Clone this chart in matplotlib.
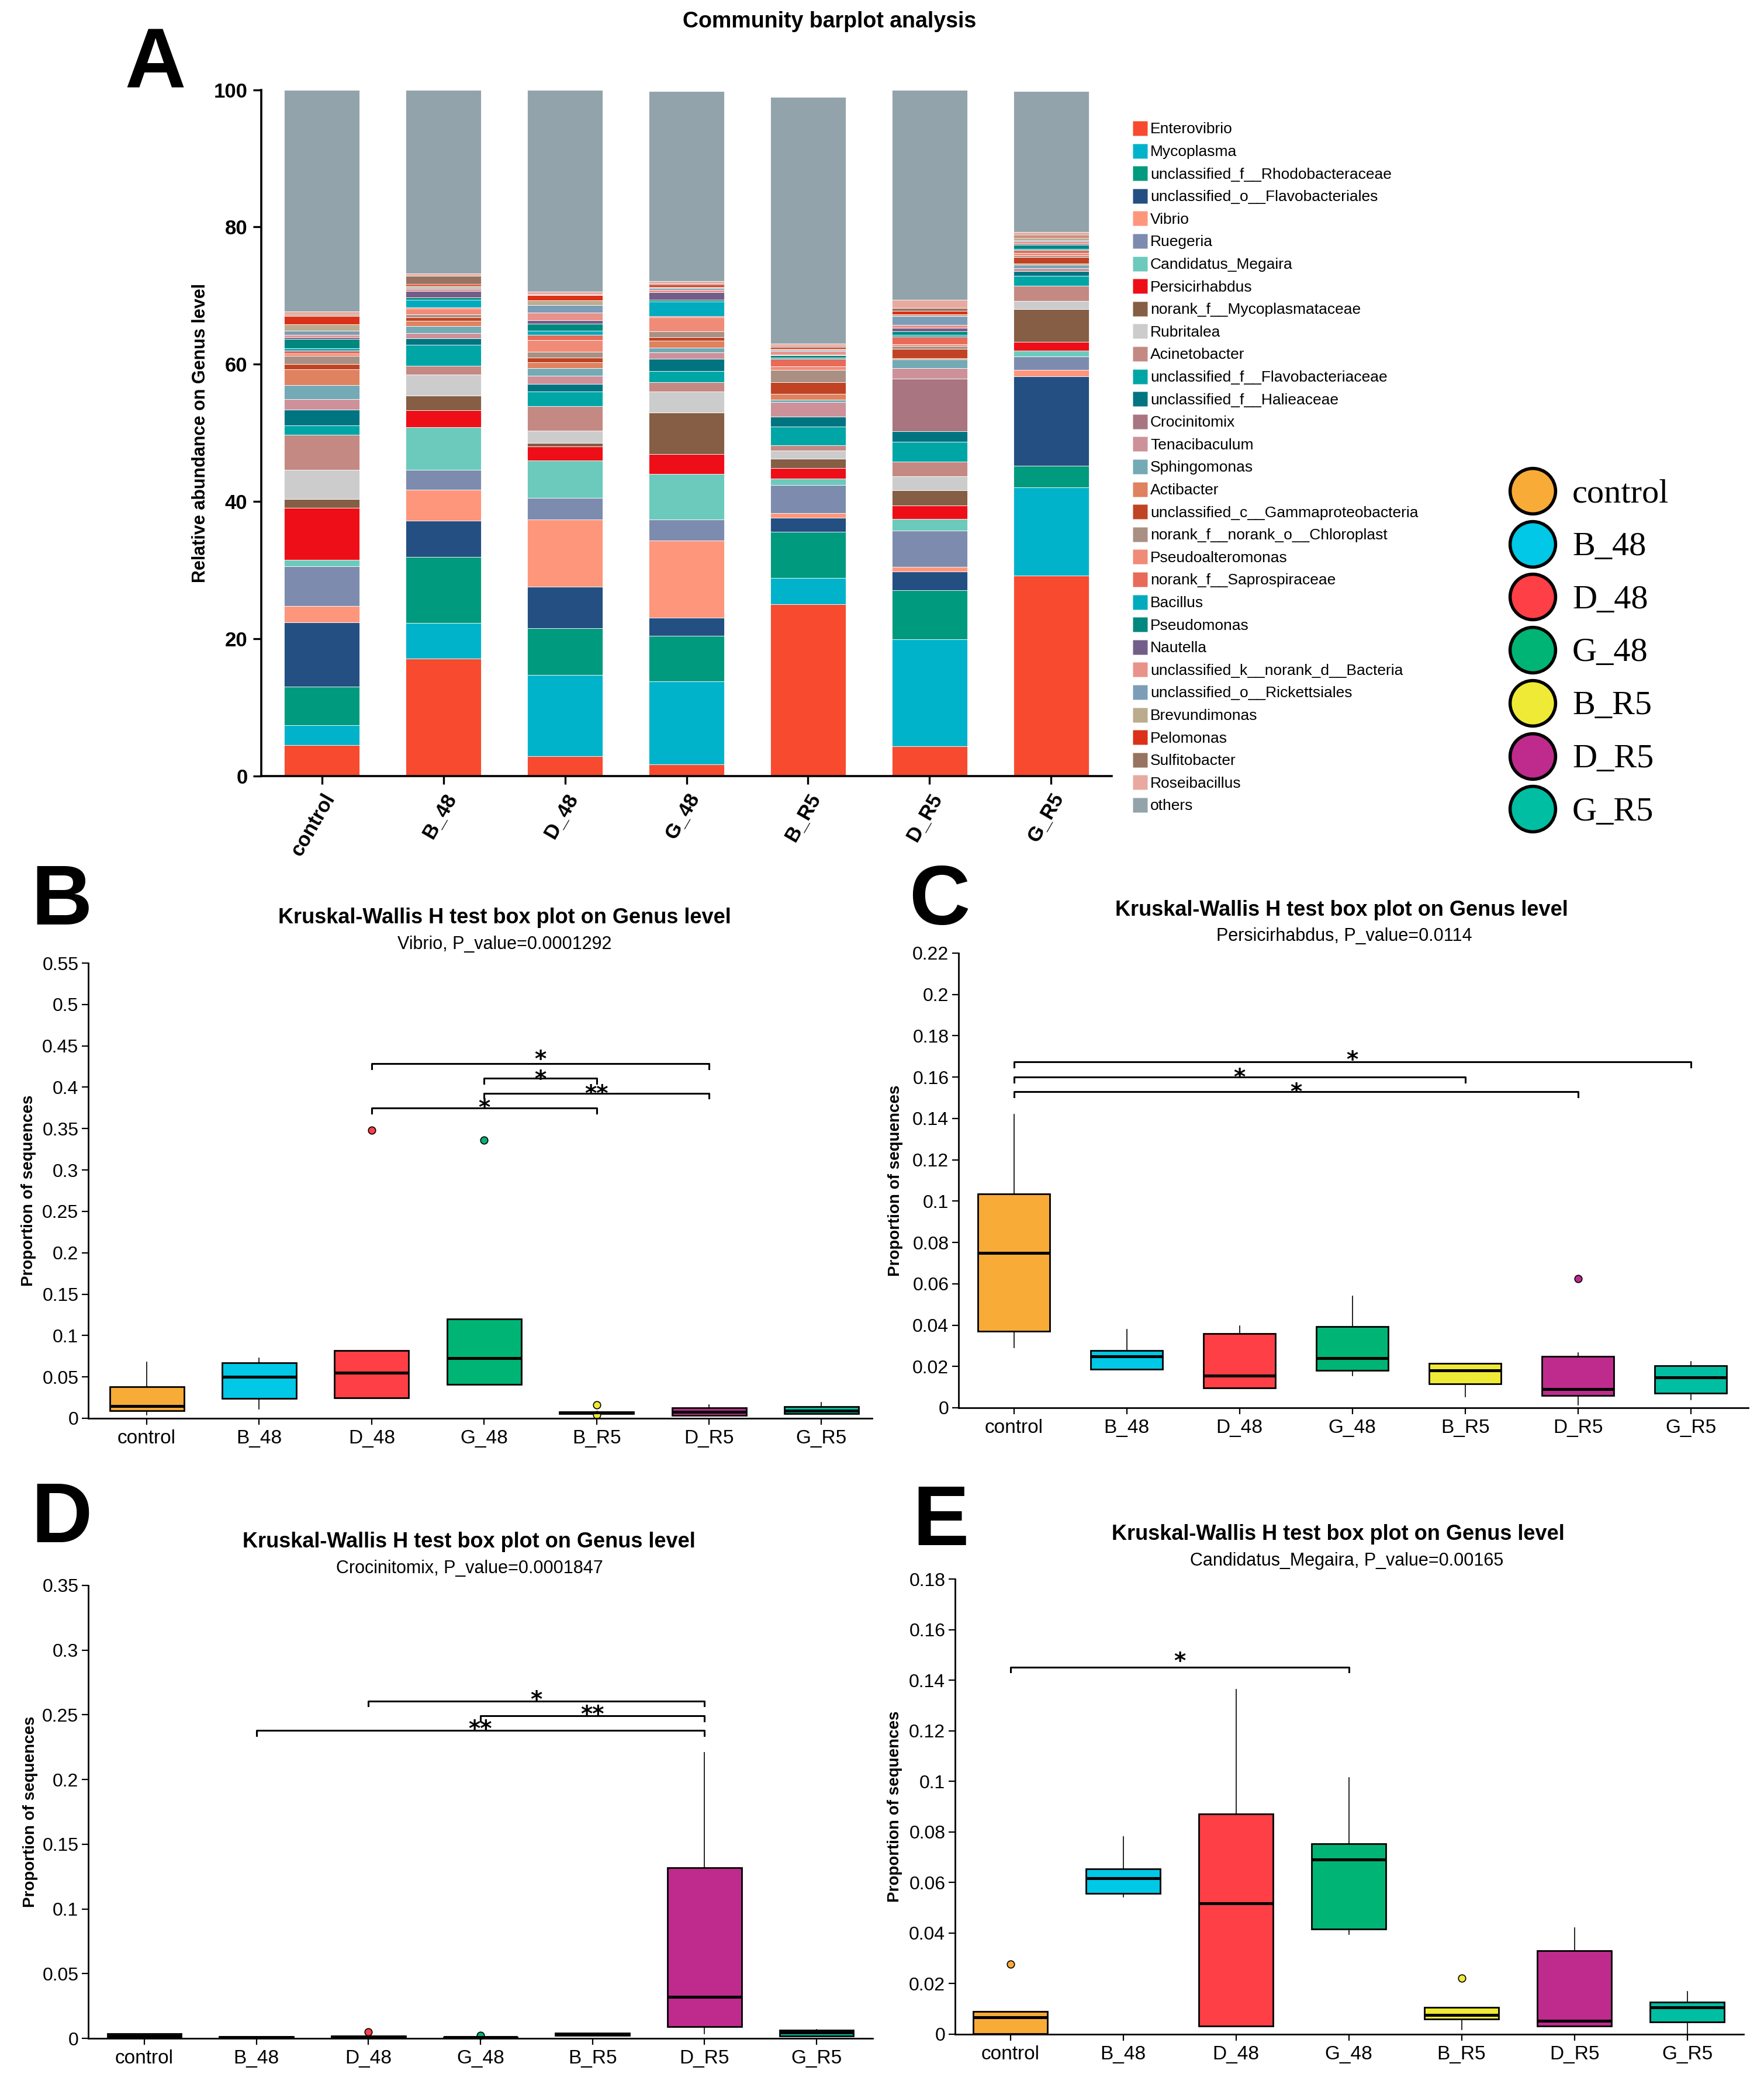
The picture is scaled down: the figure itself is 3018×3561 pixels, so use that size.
import numpy as np
import matplotlib
matplotlib.use("Agg")
import matplotlib.pyplot as plt
from matplotlib.lines import Line2D
from matplotlib.ticker import FuncFormatter

W, H, DPI = 3018, 3561, 200

# ---------------- data ----------------
samples = ['control', 'B_48', 'D_48', 'G_48', 'B_R5', 'D_R5', 'G_R5']
group_colors = ['#F8AB36', '#00C8E6', '#FE3F45', '#00B476', '#EFEA35', '#BE2B8D', '#00BEA2']

genera = ['Enterovibrio', 'Mycoplasma', 'unclassified_f__Rhodobacteraceae',
          'unclassified_o__Flavobacteriales', 'Vibrio', 'Ruegeria', 'Candidatus_Megaira',
          'Persicirhabdus', 'norank_f__Mycoplasmataceae', 'Rubritalea', 'Acinetobacter',
          'unclassified_f__Flavobacteriaceae', 'unclassified_f__Halieaceae', 'Crocinitomix',
          'Tenacibaculum', 'Sphingomonas', 'Actibacter', 'unclassified_c__Gammaproteobacteria',
          'norank_f__norank_o__Chloroplast', 'Pseudoalteromonas', 'norank_f__Saprospiraceae',
          'Bacillus', 'Pseudomonas', 'Nautella', 'unclassified_k__norank_d__Bacteria',
          'unclassified_o__Rickettsiales', 'Brevundimonas', 'Pelomonas', 'Sulfitobacter',
          'Roseibacillus', 'others']
genus_colors = ['#F84A2F', '#00B3CB', '#009A7E', '#244F82', '#FE967C', '#7D8CAE', '#6BCABC',
                '#EE0E18', '#855E45', '#CCCCCC', '#C48983', '#00A6A6', '#007481', '#A87580',
                '#CD919A', '#73AAB5', '#DE8260', '#C04424', '#A99083', '#F08B78', '#E86A58',
                '#00ABBE', '#00887E', '#725E88', '#E9928A', '#7C9DB7', '#BBAC8D', '#DA3118',
                '#967461', '#E8AAA0', '#93A3AB']

# relative abundance (%) of each genus, in legend order, per sample
control_pct = [4.5, 2.9, 5.6, 9.4, 2.4, 5.8, 0.9, 7.6, 1.3, 4.2, 5.1, 1.4, 2.3, 0.0, 1.5, 2.1,
               2.3, 0.7, 1.2, 0.4, 0.4, 0.3, 1.4, 0.2, 0.4, 0.6, 0.9, 1.2, 0.2, 0.5, 32.3]
b48_pct = [17.1, 5.2, 9.6, 5.3, 4.5, 2.9, 6.2, 2.5, 2.1, 3.1, 1.3, 3.0, 1.0, 0.0, 0.7, 1.1,
           0.7, 0.5, 0.5, 0.8, 0.2, 1.1, 0.3, 1.0, 0.3, 0.2, 0.2, 0.3, 1.2, 0.3, 26.8]
d48_pct = [2.9, 11.8, 6.8, 6.1, 9.8, 3.1, 5.5, 2.0, 0.5, 1.8, 3.6, 2.1, 1.1, 0.0, 1.2, 1.1,
           0.9, 0.7, 0.8, 1.7, 0.8, 0.6, 1.0, 0.5, 1.1, 1.1, 0.7, 0.8, 0.1, 0.4, 29.4]
g48_pct = [1.7, 12.1, 6.6, 2.7, 11.2, 3.1, 6.6, 2.9, 6.1, 3.0, 1.4, 1.6, 1.8, 0.0, 0.9, 0.7,
           1.0, 0.5, 0.9, 2.0, 0.2, 2.1, 0.3, 1.1, 0.3, 0.3, 0.2, 0.3, 0.2, 0.3, 27.7]
br5_pct = [25.0, 3.9, 6.7, 2.0, 0.7, 4.1, 0.9, 1.6, 1.3, 1.2, 0.8, 2.7, 1.5, 0.0, 2.1, 0.3,
           0.9, 1.7, 1.8, 0.5, 1.1, 0.2, 0.3, 0.1, 0.5, 0.2, 0.1, 0.3, 0.2, 0.3, 35.9]
dr5_pct = [4.3, 15.6, 7.2, 2.7, 0.7, 5.3, 1.7, 1.9, 2.2, 2.1, 2.1, 2.9, 1.5, 7.7, 1.5, 1.3,
           0.2, 1.3, 0.5, 0.2, 1.1, 0.3, 0.5, 0.5, 0.4, 1.3, 0.3, 0.5, 0.4, 1.2, 30.6]
gr5_pct = [29.2, 12.9, 3.1, 13.0, 1.0, 1.9, 0.9, 1.3, 4.7, 1.2, 2.2, 1.5, 0.7, 0.0, 0.4, 0.5,
           0.2, 0.9, 0.3, 0.3, 0.4, 0.2, 0.6, 0.2, 0.3, 0.2, 0.3, 0.2, 0.2, 0.5, 20.5]

# box plot statistics (proportion of sequences)
vibrio_q1 = [0.009, 0.024, 0.025, 0.041, 0.006, 0.0036, 0.0054]
vibrio_med = [0.015, 0.050, 0.055, 0.073, 0.007, 0.008, 0.0095]
vibrio_q3 = [0.038, 0.067, 0.082, 0.120, 0.008, 0.0126, 0.014]
vibrio_lo = [0.0045, 0.011, 0.025, 0.041, 0.006, 0.0036, 0.0054]
vibrio_hi = [0.068, 0.073, 0.082, 0.120, 0.008, 0.016, 0.019]
vibrio_out = [[], [], [0.348], [0.336], [0.016, 0.004], [], []]
vibrio_sig = [(2, 5, 0.4284, 0.4405, '*'), (3, 4, 0.4108, 0.4171, '*'),
              (3, 5, 0.3928, 0.3991, '**'), (2, 4, 0.3748, 0.382, '*')]

persic_q1 = [0.037, 0.0188, 0.0097, 0.018, 0.0117, 0.006, 0.0072]
persic_med = [0.075, 0.025, 0.0155, 0.024, 0.018, 0.009, 0.0146]
persic_q3 = [0.1035, 0.0276, 0.036, 0.0393, 0.0216, 0.025, 0.0204]
persic_lo = [0.029, 0.0188, 0.0097, 0.0155, 0.0054, 0.0015, 0.004]
persic_hi = [0.142, 0.038, 0.0395, 0.054, 0.0216, 0.0265, 0.0224]
persic_out = [[], [], [], [], [], [0.0624], []]
persic_sig = [(0, 6, 0.1674, 0.1711, '*'), (0, 4, 0.1600, 0.1627, '*'),
              (0, 5, 0.1529, 0.1556, '*')]

croc_q1 = [0.001, 0.0004, 0.0006, 0.0003, 0.0023, 0.0092, 0.002]
croc_med = [0.002, 0.0008, 0.0012, 0.0007, 0.003, 0.032, 0.0043]
croc_q3 = [0.0035, 0.0012, 0.0018, 0.0011, 0.004, 0.1317, 0.0063]
croc_lo = [0.001, 0.0004, 0.0006, 0.0003, 0.0023, 0.0035, 0.002]
croc_hi = [0.0035, 0.0012, 0.0018, 0.0011, 0.004, 0.221, 0.007]
croc_out = [[], [], [0.005], [0.0023], [], [], []]
croc_sig = [(2, 5, 0.2607, 0.266, '*'), (3, 5, 0.2492, 0.2547, '**'),
            (1, 5, 0.2380, 0.2437, '**')]

megaira_q1 = [0.0003, 0.0558, 0.0032, 0.0415, 0.006, 0.0032, 0.0049]
megaira_med = [0.0068, 0.0617, 0.0517, 0.069, 0.0077, 0.0054, 0.0106]
megaira_q3 = [0.0091, 0.0653, 0.0872, 0.0753, 0.0106, 0.033, 0.0128]
megaira_lo = [0.0003, 0.0544, 0.0032, 0.0396, 0.0018, 0.0032, 0.0]
megaira_hi = [0.0091, 0.078, 0.1364, 0.1015, 0.0106, 0.042, 0.0168]
megaira_out = [[0.0277], [], [], [], [0.0222], [], []]
megaira_sig = [(0, 3, 0.1452, 0.1497, '*')]

# ---------------- helpers ----------------
SANS = ['Liberation Sans', 'DejaVu Sans']
SERIF = ['Liberation Serif', 'DejaVu Serif']
plt.rcParams['font.family'] = SANS

fig = plt.figure(figsize=(W / DPI, H / DPI), dpi=DPI)


def rect(l, t, r, b):
    return [l / W, 1 - b / H, (r - l) / W, (b - t) / H]


def fx(x):
    return x / W


def fy(y):
    return 1 - y / H


def cap_text(x, y, s, size, cap=0.716, **kw):
    """place text so that the middle of its capitals sits at pixel (x, y)"""
    off = cap / 2 * size * DPI / 72
    fig.text(fx(x), fy(y + off), s, fontsize=size, va='baseline', **kw)


# ---------------- panel A ----------------
axA = fig.add_axes(rect(447, 153.5, 1902, 1328))
abund = np.array([control_pct, b48_pct, d48_pct, g48_pct, br5_pct, dr5_pct, gr5_pct])
xpos = np.arange(len(samples))
bottom = np.zeros(len(samples))
for k in range(len(genera)):
    vals = abund[:, k]
    axA.bar(xpos, vals, width=0.62, bottom=bottom, color=genus_colors[k],
            edgecolor='white', linewidth=0.3)
    bottom += vals
axA.set_xlim(-0.5, 6.5)
axA.set_ylim(0, 100)
for s in ['top', 'right']:
    axA.spines[s].set_visible(False)
for s in ['left', 'bottom']:
    axA.spines[s].set_linewidth(1.3)
axA.set_yticks([0, 20, 40, 60, 80, 100])
axA.set_xticks(xpos)
axA.set_xticklabels(samples, rotation=60, ha='right', va='top', rotation_mode='anchor',
                    fontweight='bold', fontsize=12.5)
axA.tick_params(axis='both', direction='out', length=5, width=1.2, labelsize=12.5)
for lab in axA.get_yticklabels():
    lab.set_fontweight('bold')
axA.set_ylabel('Relative abundance on Genus level', fontweight='bold', fontsize=11)
axA.yaxis.set_label_coords(-0.061, 0.5)

cap_text(1419, 34, 'Community barplot analysis', 13.5, ha='center', fontweight='bold')
cap_text(266, 98, 'A', 52, ha='center', fontweight='bold')

# genus legend
for k, g in enumerate(genera):
    yy = 219 + k * 38.6
    fig.add_artist(Line2D([fx(1950)], [fy(yy)], marker='s', ms=9, mfc=genus_colors[k],
                          mec='none', ls='none', transform=fig.transFigure))
    cap_text(1968, yy, g, 9.5, ha='left')

# group legend
for k, g in enumerate(samples):
    yy = 840 + k * 90.7
    fig.add_artist(Line2D([fx(2622)], [fy(yy)], marker='o', ms=28, mfc=group_colors[k],
                          mec='black', mew=2.0, ls='none', transform=fig.transFigure))
    cap_text(2690, yy, g, 21, cap=0.662, ha='left', family=SERIF)


# ---------------- box panels ----------------
def box_panel(px, xlim, ymax, ystep, q1, med, q3, lo, hi, out, sig, width,
              title_xy, sub_xy, subtitle, letter, letter_xy, ylab_x):
    ax = fig.add_axes(rect(*px))
    stats = [dict(q1=q1[i], med=med[i], q3=q3[i], whislo=lo[i], whishi=hi[i],
                  fliers=out[i], label=samples[i]) for i in range(len(samples))]
    bp = ax.bxp(stats, positions=np.arange(len(samples)), widths=width, patch_artist=True,
                showcaps=False,
                boxprops=dict(edgecolor='black', linewidth=1.0),
                medianprops=dict(color='black', linewidth=1.8),
                whiskerprops=dict(color='black', linewidth=0.6),
                flierprops=dict(marker='o', markersize=4.5, markeredgecolor='black',
                                markeredgewidth=0.6, linestyle='none'))
    for patch, c in zip(bp['boxes'], group_colors):
        patch.set_facecolor(c)
    for fl, c in zip(bp['fliers'], group_colors):
        fl.set_markerfacecolor(c)
        fl.set_clip_on(False)
    ax.set_xlim(*xlim)
    ax.set_ylim(0, ymax)
    ax.set_yticks(np.arange(0, ymax + ystep / 2, ystep))
    ax.yaxis.set_major_formatter(FuncFormatter(lambda v, _: '%g' % round(v, 4)))
    ax.set_xticks(np.arange(len(samples)))
    ax.set_xticklabels(samples)
    for s in ['top', 'right']:
        ax.spines[s].set_visible(False)
    for s in ['left', 'bottom']:
        ax.spines[s].set_linewidth(1.0)
    ax.tick_params(axis='y', direction='out', length=4, width=0.8, labelsize=11.5, pad=2)
    ax.tick_params(axis='x', direction='out', length=4, width=0.8, labelsize=12, pad=3)
    ax.set_ylabel('Proportion of sequences', fontweight='bold', fontsize=10)
    ax.yaxis.set_label_coords(ylab_x, 0.5)
    tick = 0.011 * ymax
    for (i, j, yl, ys, lab) in sig:
        ax.plot([i, i, j, j], [yl - tick, yl, yl, yl - tick], color='black', lw=1.1,
                clip_on=False)
        ax.annotate(lab, xy=((i + j) / 2, ys), xytext=(0, -0.575 * 14),
                    textcoords='offset points', ha='center', va='baseline',
                    fontsize=14, fontweight='bold', family='DejaVu Sans')
    cap_text(title_xy[0], title_xy[1], 'Kruskal-Wallis H test box plot on Genus level', 13,
             ha='center', fontweight='bold')
    cap_text(sub_xy[0], sub_xy[1], subtitle, 11, ha='center')
    cap_text(letter_xy[0], letter_xy[1], letter, 52, ha='center', fontweight='bold')
    return ax


box_panel((151, 1648, 1492, 2427), (-0.52, 6.45), 0.55, 0.05,
          vibrio_q1, vibrio_med, vibrio_q3, vibrio_lo, vibrio_hi, vibrio_out, vibrio_sig, 0.66,
          (863, 1567), (863, 1613), 'Vibrio, P_value=0.0001292', 'B', (106, 1530), -0.066)
box_panel((1640, 1631, 2991, 2409), (-0.49, 6.51), 0.22, 0.02,
          persic_q1, persic_med, persic_q3, persic_lo, persic_hi, persic_out, persic_sig, 0.64,
          (2295, 1554), (2300, 1599), 'Persicirhabdus, P_value=0.0114', 'C', (1607, 1530),
          -0.07)
box_panel((151, 2713, 1493, 3488), (-0.5, 6.5), 0.35, 0.05,
          croc_q1, croc_med, croc_q3, croc_lo, croc_hi, croc_out, croc_sig, 0.66,
          (802, 2635), (803, 2681), 'Crocinitomix, P_value=0.0001847', 'D', (106, 2587),
          -0.064)
box_panel((1634, 2702, 2983, 3481), (-0.49, 6.5), 0.18, 0.02,
          megaira_q1, megaira_med, megaira_q3, megaira_lo, megaira_hi, megaira_out,
          megaira_sig, 0.66,
          (2289, 2622), (2304, 2668), 'Candidatus_Megaira, P_value=0.00165', 'E',
          (1610, 2592), -0.067)

fig.savefig('out.png', dpi=DPI)
